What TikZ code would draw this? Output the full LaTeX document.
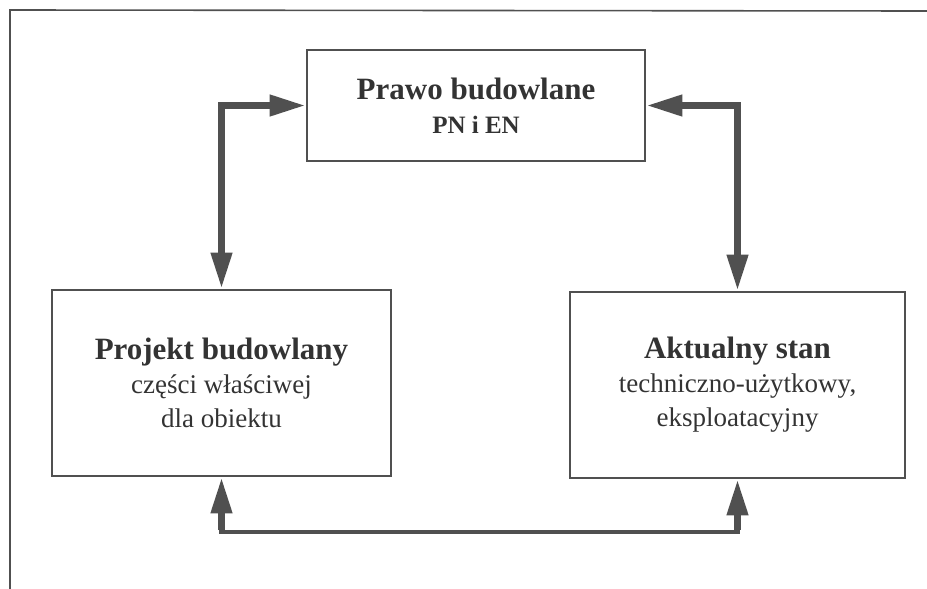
\documentclass[tikz,border=0pt]{standalone}
\usepackage{fontspec}
\setmainfont{Liberation Serif}
\usetikzlibrary{arrows.meta}
\definecolor{gc}{HTML}{505050}
\definecolor{tc}{HTML}{333333}
\tikzset{
  box/.style={draw=gc, line width=2.6pt, align=center, inner sep=0pt, text=tc,
    font=\fontsize{27}{34}\selectfont},
  conn/.style={draw=gc, line width=7pt, {Triangle[length=36pt,width=20pt]}-{Triangle[length=36pt,width=20pt]}},
  halfconn/.style={draw=gc, line width=7pt, -{Triangle[length=36pt,width=20pt]}},
  thinconn/.style={draw=gc, line width=4.5pt, line cap=rect},
  frame/.style={draw=gc, line width=1.6pt}
}
\newcommand{\hd}[1]{{\bfseries\fontsize{31}{34}\selectfont #1}}
\begin{document}
\begin{tikzpicture}[x=1pt,y=-1pt]
\useasboundingbox (0,0) rectangle (927,589);
\draw[frame] (10,589) -- (10,10) -- (927,11);
\node[box, minimum width=338pt, minimum height=111pt] (T) at (476,105.5)
  {\hd{Prawo budowlane}\\ {\bfseries\fontsize{25}{34}\selectfont PN i EN}};
\node[box, minimum width=339pt, minimum height=186pt] (L) at (221.5,383)
  {\hd{Projekt budowlany}\\ części właściwej\\ dla obiektu};
\node[box, minimum width=335pt, minimum height=186pt] (R) at (737.5,385)
  {\hd{Aktualny stan}\\ techniczno-użytkowy,\\ eksploatacyjny};
\draw[conn] (L.north) |- (T.west);
\draw[conn] (T.east) -| (R.north);
\coordinate (b1) at (L.south |- 0,532);
\coordinate (b2) at (R.south |- 0,532);
\draw[thinconn] (b1) -- (b2);
\draw[halfconn] ([yshift=2pt]b1) -- (L.south);
\draw[halfconn] ([yshift=2pt]b2) -- (R.south);
\end{tikzpicture}
\end{document}
